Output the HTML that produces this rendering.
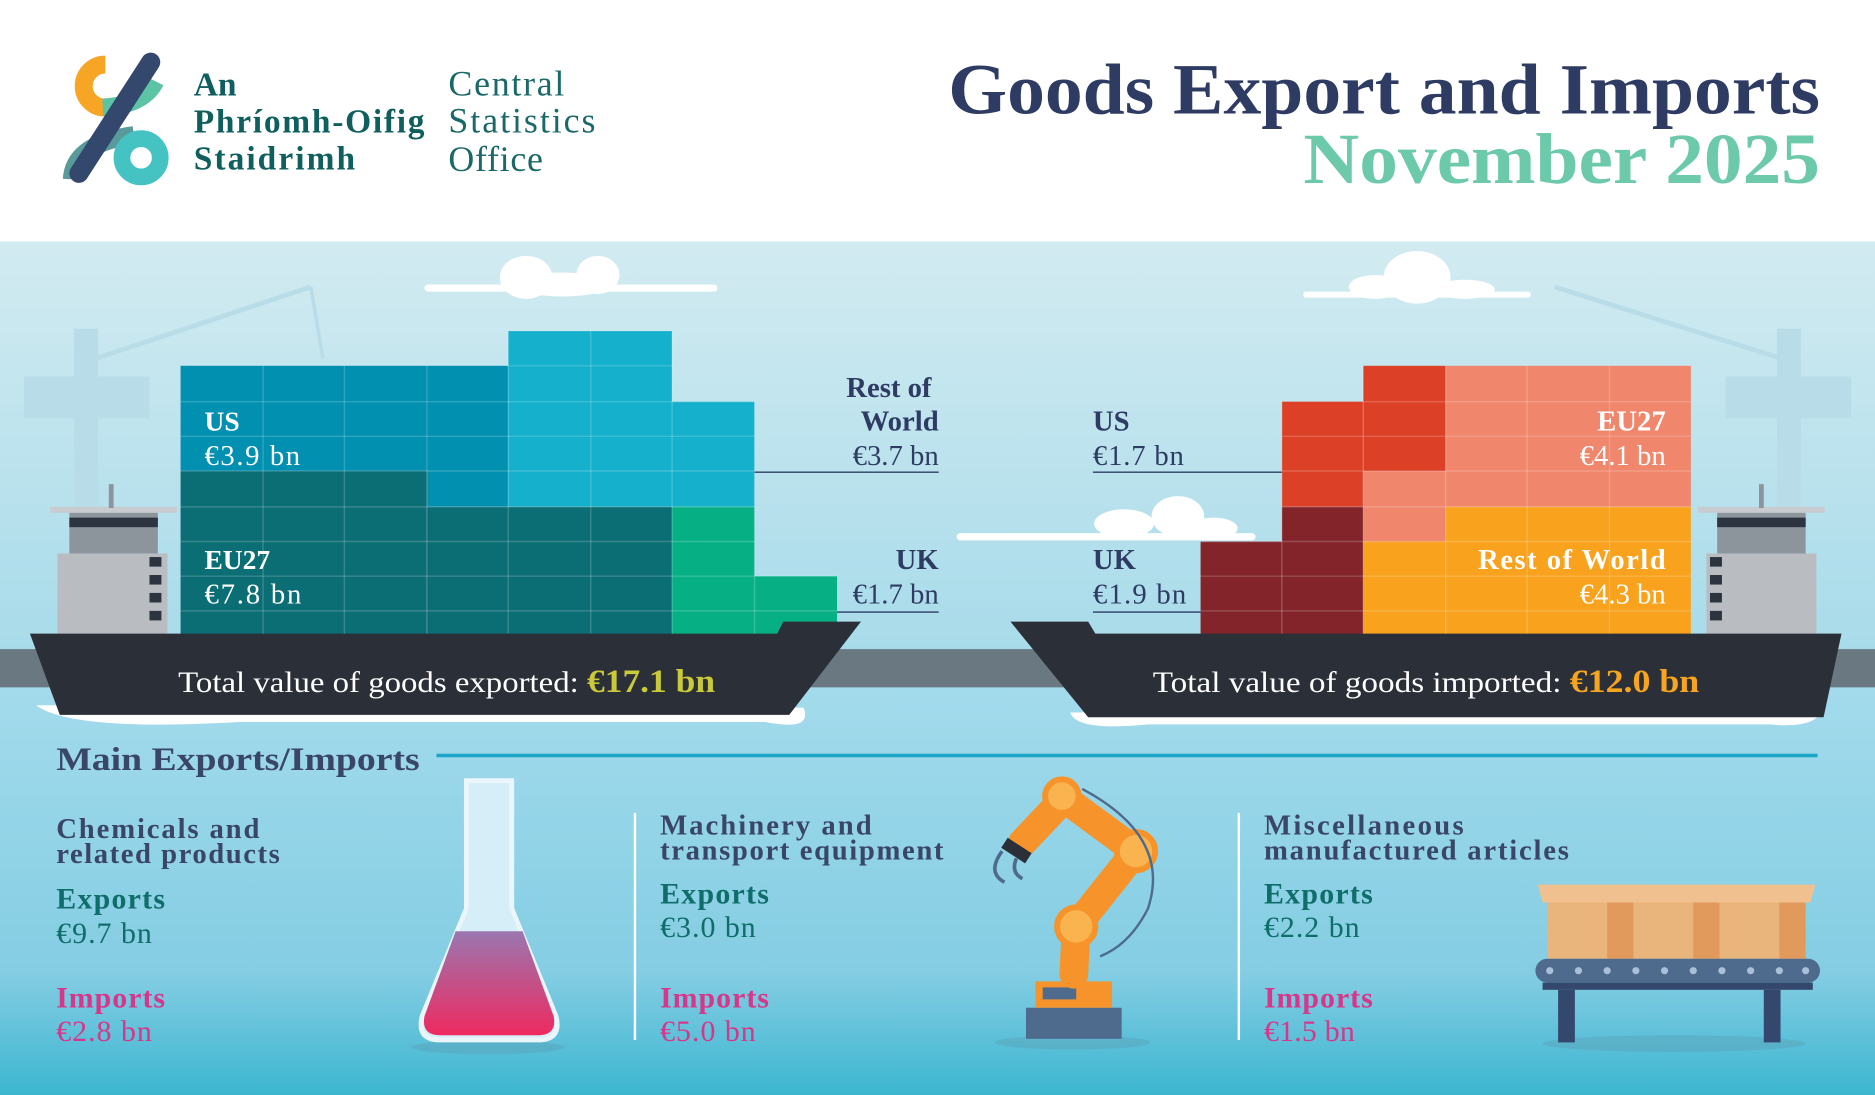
<!DOCTYPE html>
<html><head><meta charset="utf-8"><style>
html,body{margin:0;padding:0;width:1875px;height:1095px;overflow:hidden;background:#fff}
svg{display:block}
.b{font-family:"Liberation Serif",serif;font-weight:bold}
.r{font-family:"Liberation Serif",serif}
</style></head><body>
<svg width="1875" height="1095" viewBox="0 0 1568 916" preserveAspectRatio="none">
<defs>
<linearGradient id="sky" x1="0" y1="0" x2="0" y2="1"><stop offset="0" stop-color="#d2ebf1"/><stop offset="1" stop-color="#a8dbea"/></linearGradient>
<linearGradient id="sea" x1="0" y1="0" x2="0" y2="1"><stop offset="0" stop-color="#a3dbec"/><stop offset="0.7" stop-color="#84cde3"/><stop offset="1" stop-color="#3cb6d0"/></linearGradient>
<linearGradient id="liq" x1="0" y1="0" x2="0" y2="1"><stop offset="0" stop-color="#9a77b0"/><stop offset="1" stop-color="#ee2a60"/></linearGradient>
</defs>
<rect width="1568" height="202" fill="#fff"/>
<rect y="202" width="1568" height="343" fill="url(#sky)"/>
<rect y="543" width="1568" height="33" fill="#6a7882"/>
<rect y="575" width="1568" height="341" fill="url(#sea)"/>
<g fill="#b9dde8" stroke="#b9dde8">
<rect x="20" y="315" width="105" height="35" stroke="none"/>
<rect x="62" y="275" width="20" height="260" stroke="none"/>
<line x1="80" y1="300" x2="260" y2="240" stroke-width="4"/>
<line x1="260" y1="240" x2="270" y2="300" stroke-width="3"/>
<rect x="1443" y="315" width="105" height="35" stroke="none"/>
<rect x="1486" y="275" width="20" height="260" stroke="none"/>
<line x1="1490" y1="300" x2="1300" y2="240" stroke-width="4"/>
</g>
<g fill="#fff">
<ellipse cx="440" cy="232" rx="22" ry="18"/><ellipse cx="500" cy="230" rx="18" ry="16"/><ellipse cx="470" cy="238" rx="40" ry="10"/><rect x="355" y="238" width="245" height="6" rx="3"/>
<ellipse cx="1185" cy="232" rx="28" ry="22"/><ellipse cx="1150" cy="240" rx="22" ry="10"/><ellipse cx="1225" cy="242" rx="25" ry="8"/><rect x="1090" y="244" width="190" height="5" rx="2"/>
<ellipse cx="985" cy="432" rx="22" ry="17"/><ellipse cx="940" cy="438" rx="25" ry="12"/><ellipse cx="1015" cy="442" rx="20" ry="9"/><rect x="800" y="446" width="250" height="6" rx="3"/>
</g>
<rect x="42" y="424" width="106" height="5" fill="#c8ccd0"/>
<rect x="58" y="429" width="74" height="34" fill="#8c949c"/><rect x="58" y="433" width="74" height="8" fill="#2c3440"/>
<rect x="48" y="463" width="92" height="70" fill="#b9bdc2"/>
<g fill="#2c3440"><rect x="125" y="466" width="10" height="8"/><rect x="125" y="481" width="10" height="8"/><rect x="125" y="496" width="10" height="8"/><rect x="125" y="511" width="10" height="8"/></g>
<rect x="91" y="405" width="4" height="20" fill="#8c949c"/>
<rect x="1420" y="424" width="106" height="5" fill="#c8ccd0"/>
<rect x="1436" y="429" width="74" height="34" fill="#8c949c"/><rect x="1436" y="433" width="74" height="8" fill="#2c3440"/>
<rect x="1427" y="463" width="92" height="70" fill="#b9bdc2"/>
<g fill="#2c3440"><rect x="1430" y="466" width="10" height="8"/><rect x="1430" y="481" width="10" height="8"/><rect x="1430" y="496" width="10" height="8"/><rect x="1430" y="511" width="10" height="8"/></g>
<rect x="1471" y="405" width="4" height="20" fill="#8c949c"/>
<rect x="151" y="306" width="274" height="88" fill="#0290b0"/>
<rect x="357" y="394" width="68" height="30" fill="#0290b0"/>
<rect x="425" y="277" width="137" height="147" fill="#14b0cc"/>
<rect x="562" y="336" width="69" height="88" fill="#14b0cc"/>
<rect x="151" y="394" width="206" height="146" fill="#0b6e74"/>
<rect x="357" y="424" width="205" height="116" fill="#0b6e74"/>
<rect x="562" y="424" width="69" height="116" fill="#06b084"/>
<rect x="631" y="482" width="69" height="58" fill="#06b084"/>
<g stroke="#ffffff" stroke-opacity="0.18" stroke-width="1.2">
<line x1="220" y1="306" x2="220" y2="540"/><line x1="288" y1="306" x2="288" y2="540"/><line x1="357" y1="306" x2="357" y2="540"/><line x1="425" y1="277" x2="425" y2="540"/><line x1="494" y1="277" x2="494" y2="540"/><line x1="562" y1="277" x2="562" y2="540"/><line x1="631" y1="336" x2="631" y2="540"/>
<line x1="425" y1="306" x2="562" y2="306"/><line x1="151" y1="336" x2="631" y2="336"/><line x1="151" y1="365" x2="631" y2="365"/><line x1="151" y1="394" x2="631" y2="394"/><line x1="151" y1="424" x2="631" y2="424"/><line x1="151" y1="453" x2="631" y2="453"/><line x1="151" y1="482" x2="700" y2="482"/><line x1="151" y1="511" x2="700" y2="511"/>
</g>
<rect x="1140" y="306" width="69" height="88" fill="#dc4128"/>
<rect x="1072" y="336" width="68" height="88" fill="#dc4128"/>
<rect x="1209" y="306" width="205" height="118" fill="#f0876d"/>
<rect x="1140" y="394" width="69" height="59" fill="#f0876d"/>
<rect x="1209" y="424" width="205" height="116" fill="#f8a21e"/>
<rect x="1140" y="453" width="69" height="87" fill="#f8a21e"/>
<rect x="1072" y="424" width="68" height="116" fill="#82242a"/>
<rect x="1004" y="453" width="68" height="87" fill="#82242a"/>
<g stroke="#ffffff" stroke-opacity="0.18" stroke-width="1.2">
<line x1="1072" y1="336" x2="1072" y2="540"/><line x1="1140" y1="306" x2="1140" y2="540"/><line x1="1209" y1="306" x2="1209" y2="540"/><line x1="1277" y1="306" x2="1277" y2="540"/><line x1="1346" y1="306" x2="1346" y2="540"/>
<line x1="1140" y1="336" x2="1414" y2="336"/><line x1="1072" y1="365" x2="1414" y2="365"/><line x1="1072" y1="394" x2="1414" y2="394"/><line x1="1072" y1="424" x2="1414" y2="424"/><line x1="1004" y1="453" x2="1414" y2="453"/><line x1="1004" y1="482" x2="1414" y2="482"/><line x1="1004" y1="511" x2="1414" y2="511"/>
</g>
<path d="M30 590 Q60 612 200 604 L640 604 Q680 612 672 592 Z" fill="#fff"/>
<path d="M25 530 L650 530 L655 520 L720 520 L660 598 L50 598 Z" fill="#2a2f38"/>
<path d="M895 596 Q900 612 960 606 L1480 606 Q1520 610 1525 592 Z" fill="#fff"/>
<path d="M845 520 L910 520 L916 530 L1540 530 L1525 600 L910 600 Z" fill="#2a2f38"/>
<text x="149" y="579" class="r" font-size="25" fill="#fff" textLength="449" lengthAdjust="spacingAndGlyphs">Total value of goods exported: <tspan class="b" fill="#c9c93a" font-size="27">€17.1 bn</tspan></text>
<text x="964" y="579" class="r" font-size="25" fill="#fff" textLength="457" lengthAdjust="spacingAndGlyphs">Total value of goods imported: <tspan class="b" fill="#f7a51e" font-size="27">€12.0 bn</tspan></text>
<g class="b" font-size="23" fill="#fff"><text x="171" y="360">US</text><text x="171" y="476">EU27</text></g>
<g class="r" font-size="24" fill="#fff"><text x="171" y="389" textLength="80">€3.9 bn</text><text x="171" y="505" textLength="81">€7.8 bn</text></g>
<g class="b" font-size="24" fill="#2e3c64" text-anchor="end"><text x="779" y="332">Rest of</text><text x="785" y="360">World</text><text x="785" y="476">UK</text></g>
<g class="r" font-size="24" fill="#2e3c64" text-anchor="end"><text x="785" y="389">€3.7 bn</text><text x="785" y="505">€1.7 bn</text></g>
<line x1="631" y1="395" x2="785" y2="395" stroke="#2e3c64" stroke-width="1.2"/>
<line x1="700" y1="512" x2="785" y2="512" stroke="#2e3c64" stroke-width="1.2"/>
<g class="b" font-size="24" fill="#2e3c64"><text x="914" y="360">US</text><text x="914" y="476">UK</text></g>
<g class="r" font-size="24" fill="#2e3c64"><text x="914" y="389" textLength="76">€1.7 bn</text><text x="914" y="505" textLength="78">€1.9 bn</text></g>
<line x1="914" y1="395" x2="1072" y2="395" stroke="#2e3c64" stroke-width="1.2"/>
<line x1="914" y1="512" x2="1004" y2="512" stroke="#2e3c64" stroke-width="1.2"/>
<g class="b" font-size="24" fill="#fff" text-anchor="end"><text x="1393" y="360">EU27</text><text x="1393" y="476" textLength="157">Rest of World</text></g>
<g class="r" font-size="24" fill="#fff" text-anchor="end"><text x="1393" y="389">€4.1 bn</text><text x="1393" y="505">€4.3 bn</text></g>
<!-- logo -->
<g fill="none" stroke-width="15">
<path d="M88 54 A18 18 0 1 0 88 90" stroke="#f7a524"/>
<path d="M86 90 Q120 88 130 68" stroke="#5cc4a4"/>
<path d="M60 150 Q62 120 112 113" stroke="#5a9a9a"/>
<path d="M126 52 L66 145" stroke="#34476c" stroke-linecap="round" stroke-width="16"/>
<circle cx="118" cy="132" r="16" stroke="#45c3c3" stroke-width="14"/>
</g>
<g class="b" font-size="28" fill="#0f5f5e"><text x="162" y="80">An</text><text x="162" y="111" textLength="193">Phríomh-Oifig</text><text x="162" y="142" textLength="135">Staidrimh</text></g>
<g class="r" font-size="30" fill="#1a6868"><text x="375" y="80" textLength="97">Central</text><text x="375" y="111" textLength="123">Statistics</text><text x="375" y="143" textLength="79">Office</text></g>
<text x="1522" y="95" class="b" font-size="60" fill="#2e3c64" text-anchor="end" textLength="729" lengthAdjust="spacingAndGlyphs">Goods Export and Imports</text>
<text x="1522" y="153" class="b" font-size="60" fill="#6cc9aa" text-anchor="end" textLength="432" lengthAdjust="spacingAndGlyphs">November 2025</text>
<text x="47" y="644" class="b" font-size="27" fill="#3a4668" textLength="304" lengthAdjust="spacingAndGlyphs">Main Exports/Imports</text>
<line x1="365" y1="632" x2="1520" y2="632" stroke="#1ba6c8" stroke-width="3"/>
<line x1="531" y1="680" x2="531" y2="870" stroke="#fff" stroke-width="2"/>
<line x1="1036" y1="680" x2="1036" y2="870" stroke="#fff" stroke-width="2"/>
<g class="b" font-size="24" fill="#3a4668" lengthAdjust="spacingAndGlyphs">
<text x="47" y="701" textLength="170">Chemicals and</text><text x="47" y="722" textLength="187">related products</text>
<text x="552" y="698" textLength="177">Machinery and</text><text x="552" y="719" textLength="237">transport equipment</text>
<text x="1057" y="698" textLength="167">Miscellaneous</text><text x="1057" y="719" textLength="255">manufactured articles</text></g>
<g class="b" font-size="25" fill="#0f6d6a"><text x="47" y="760" textLength="91">Exports</text><text x="552" y="756" textLength="91">Exports</text><text x="1057" y="756" textLength="91">Exports</text></g>
<g class="r" font-size="25" fill="#0f6d6a"><text x="47" y="789" textLength="80">€9.7 bn</text><text x="552" y="784" textLength="80">€3.0 bn</text><text x="1057" y="784" textLength="80">€2.2 bn</text></g>
<g class="b" font-size="25" fill="#d8368a"><text x="47" y="843" textLength="91">Imports</text><text x="552" y="843" textLength="91">Imports</text><text x="1057" y="843" textLength="91">Imports</text></g>
<g class="r" font-size="25" fill="#d8368a"><text x="47" y="871" textLength="80">€2.8 bn</text><text x="552" y="871" textLength="80">€5.0 bn</text><text x="1057" y="871" textLength="76">€1.5 bn</text></g>
<ellipse cx="408" cy="876" rx="64" ry="6" fill="#5aa9c0" opacity="0.6"/>
<path d="M390 653 L428 653 L428 760 L465 850 Q470 870 450 870 L368 870 Q348 870 353 850 L390 760 Z" fill="#d6eef8" stroke="#eaf6fb" stroke-width="4"/>
<path d="M381 779 L437 779 L463 850 Q466 866 450 866 L368 866 Q352 866 355 850 Z" fill="url(#liq)"/>
<ellipse cx="897" cy="872" rx="65" ry="6" fill="#5aa9c0" opacity="0.6"/>
<rect x="858" y="843" width="80" height="26" fill="#4e6a8c"/>
<rect x="866" y="821" width="64" height="22" fill="#f6942b"/>
<rect x="872" y="826" width="28" height="10" fill="#4e6a8c"/>
<g stroke="#f6942b" stroke-width="24" stroke-linecap="round" fill="none">
<path d="M898 815 L900 775 L950 712 L890 668 L855 705"/></g>
<g fill="#f9b44f" stroke="#f6942b" stroke-width="5"><circle cx="900" cy="775" r="16"/><circle cx="950" cy="712" r="16"/><circle cx="888" cy="666" r="14"/></g>
<path d="M840 705 L860 718" stroke="#2a2f38" stroke-width="10"/>
<path d="M838 712 Q825 730 840 738 M850 718 Q845 730 855 735" stroke="#4e6a8c" stroke-width="3" fill="none"/>
<path d="M905 660 Q980 700 960 760 Q945 790 920 800" stroke="#4e6a8c" stroke-width="2" fill="none"/>
<ellipse cx="1400" cy="873" rx="110" ry="7" fill="#5aa9c0" opacity="0.6"/>
<g><rect x="1294" y="750" width="72" height="52" fill="#eab57c"/><rect x="1344" y="750" width="22" height="52" fill="#e29a5c"/><path d="M1286 740 L1372 740 L1368 755 L1290 755 Z" fill="#f0c08e"/>
<rect x="1366" y="750" width="72" height="52" fill="#eab57c"/><rect x="1416" y="750" width="22" height="52" fill="#e29a5c"/><path d="M1358 740 L1444 740 L1440 755 L1362 755 Z" fill="#f0c08e"/>
<rect x="1438" y="750" width="72" height="52" fill="#eab57c"/><rect x="1488" y="750" width="22" height="52" fill="#e29a5c"/><path d="M1430 740 L1518 740 L1514 755 L1434 755 Z" fill="#f0c08e"/></g>
<rect x="1284" y="802" width="238" height="20" rx="10" fill="#4e6a8c"/>
<g fill="#a9c0d8"><circle cx="1296" cy="812" r="3"/><circle cx="1320" cy="812" r="3"/><circle cx="1344" cy="812" r="3"/><circle cx="1368" cy="812" r="3"/><circle cx="1392" cy="812" r="3"/><circle cx="1416" cy="812" r="3"/><circle cx="1440" cy="812" r="3"/><circle cx="1464" cy="812" r="3"/><circle cx="1488" cy="812" r="3"/><circle cx="1510" cy="812" r="3"/></g>
<rect x="1290" y="822" width="226" height="6" fill="#34476c"/>
<rect x="1303" y="828" width="14" height="44" fill="#34476c"/><rect x="1475" y="828" width="14" height="44" fill="#34476c"/>
</svg>
</body></html>
